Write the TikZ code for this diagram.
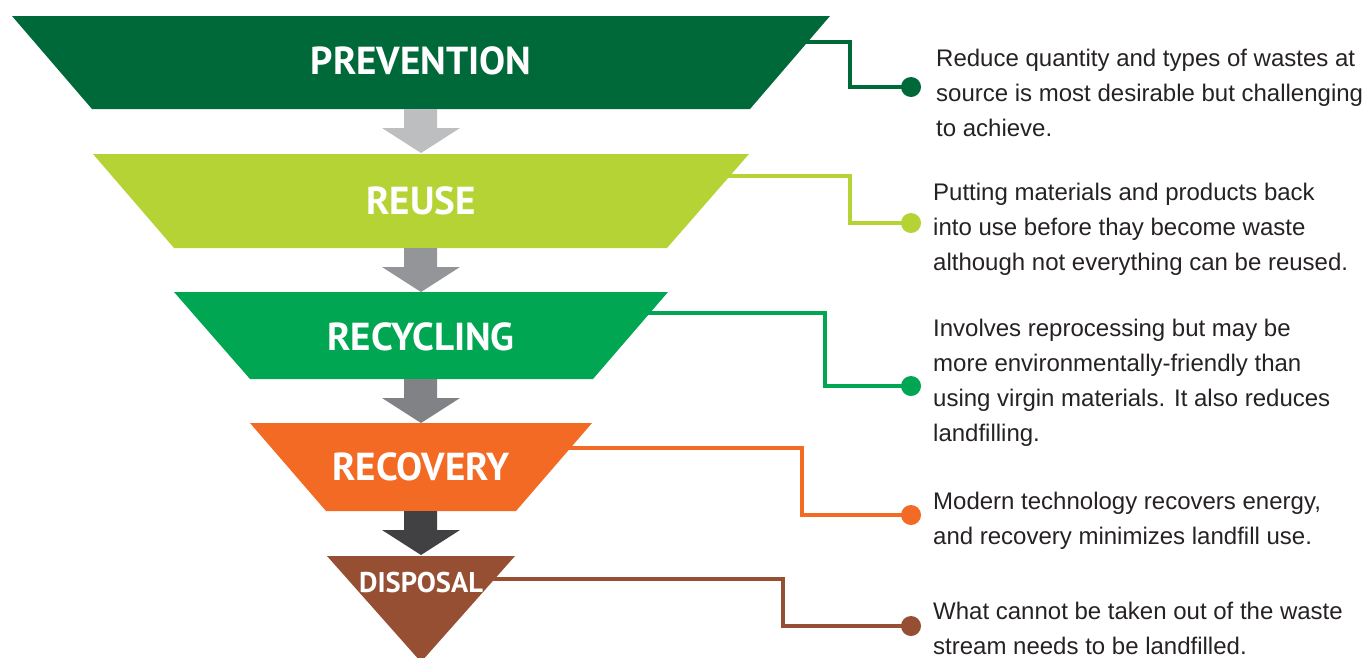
\documentclass[tikz,border=0pt]{standalone}
\usepackage{fontspec}
\setmainfont{Liberation Sans}
\newfontfamily\titlefont{PT Sans}
\usetikzlibrary{positioning}
\definecolor{prevgreen}{HTML}{00693A}
\definecolor{reusegreen}{HTML}{B5D334}
\definecolor{recygreen}{HTML}{00A651}
\definecolor{recoorange}{HTML}{F26A24}
\definecolor{disbrown}{HTML}{964F33}
\definecolor{arrowA}{HTML}{BCBEC0}
\definecolor{arrowB}{HTML}{939598}
\definecolor{arrowC}{HTML}{808285}
\definecolor{arrowD}{HTML}{414042}
\definecolor{notegray}{HTML}{262223}
\tikzset{
  stagelabel/.style={text=white,inner sep=0pt,font=\titlefont\bfseries\fontsize{39}{42}\selectfont},
  smalllabel/.style={stagelabel,font=\titlefont\bfseries\fontsize{28.5}{30}\selectfont},
  note/.style={align=left,anchor=base west,inner sep=0pt,text=notegray,font=\fontsize{24}{35}\selectfont},
  leader/.style={line width=4.5pt},
  dot/.style={circle,minimum size=20pt,inner sep=0pt}
}
\begin{document}
\begin{tikzpicture}[x=1pt,y=-1pt]
  \useasboundingbox (0,0) rectangle (1368,657);
  % funnel
  \fill[prevgreen] (12,16) -- (830,16) -- (750,109) -- (92,109) -- cycle;
  \fill[reusegreen] (93,154) -- (749,154) -- (667,248) -- (174,248) -- cycle;
  \fill[recygreen] (174,292) -- (668,292) -- (593,379) -- (250,379) -- cycle;
  \fill[recoorange] (250,423) -- (592,423) -- (516,511) -- (326,511) -- cycle;
  \fill[disbrown] (327,556) -- (515,556) -- (421,662) -- cycle;
  % arrows between stages
  \foreach \ytop/\col in {109/arrowA,248/arrowB,379/arrowC,511/arrowD}
    \fill[\col] (404,\ytop) -- (404,\ytop+19) -- (382,\ytop+19) -- (421,\ytop+44)
      -- (460,\ytop+19) -- (437,\ytop+19) -- (437,\ytop) -- cycle;
  % labels
  \node[stagelabel] (prevention) at (421,61) {PREVENTION};
  \node[stagelabel] (reuse) at (421,201) {REUSE};
  \node[stagelabel] (recycling) at (421,337) {RECYCLING};
  \node[stagelabel] (recovery) at (421,467) {RECOVERY};
  \node[smalllabel] (disposal) at (421,583) {DISPOSAL};
  % dots
  \node[dot,fill=prevgreen] (prevdot) at (911,87) {};
  \node[dot,fill=reusegreen] (reusedot) at (911,223) {};
  \node[dot,fill=recygreen] (recydot) at (911,386) {};
  \node[dot,fill=recoorange] (recodot) at (911,515) {};
  \node[dot,fill=disbrown] (disdot) at (911,626) {};
  % leader lines
  \coordinate (prevstart) at (806,42);
  \coordinate (reusestart) at (728,176);
  \coordinate (recystart) at (648,313);
  \coordinate (recostart) at (568,448);
  \coordinate (disstart) at (492,579);
  \draw[leader,prevgreen] (prevstart) -| (850,87) -- (prevdot.center);
  \draw[leader,reusegreen] (reusestart) -| (850,223) -- (reusedot.center);
  \draw[leader,recygreen] (recystart) -| (825,386) -- (recydot.center);
  \draw[leader,recoorange] (recostart) -| (802,515) -- (recodot.center);
  \draw[leader,disbrown] (disstart) -| (783,626) -- (disdot.center);
  % notes (anchored on the baseline of their last line)
  \node[note] (prevnote) at (936,136) {Reduce quantity and types of wastes at\\source is most desirable but challenging\\to achieve.};
  \node[note] (reusenote) at (933,270) {Putting materials and products back\\into use before thay become waste\\although not everything can be reused.};
  \node[note] (recynote) at (933,441) {Involves reprocessing but may be\\more environmentally-friendly than\\using virgin materials. It also reduces\\landfilling.};
  \node[note] (reconote) at (933,544) {Modern technology recovers energy,\\and recovery minimizes landfill use.};
  \node[note] (disnote) at (933,654) {What cannot be taken out of the waste\\stream needs to be landfilled.};
\end{tikzpicture}
\end{document}
